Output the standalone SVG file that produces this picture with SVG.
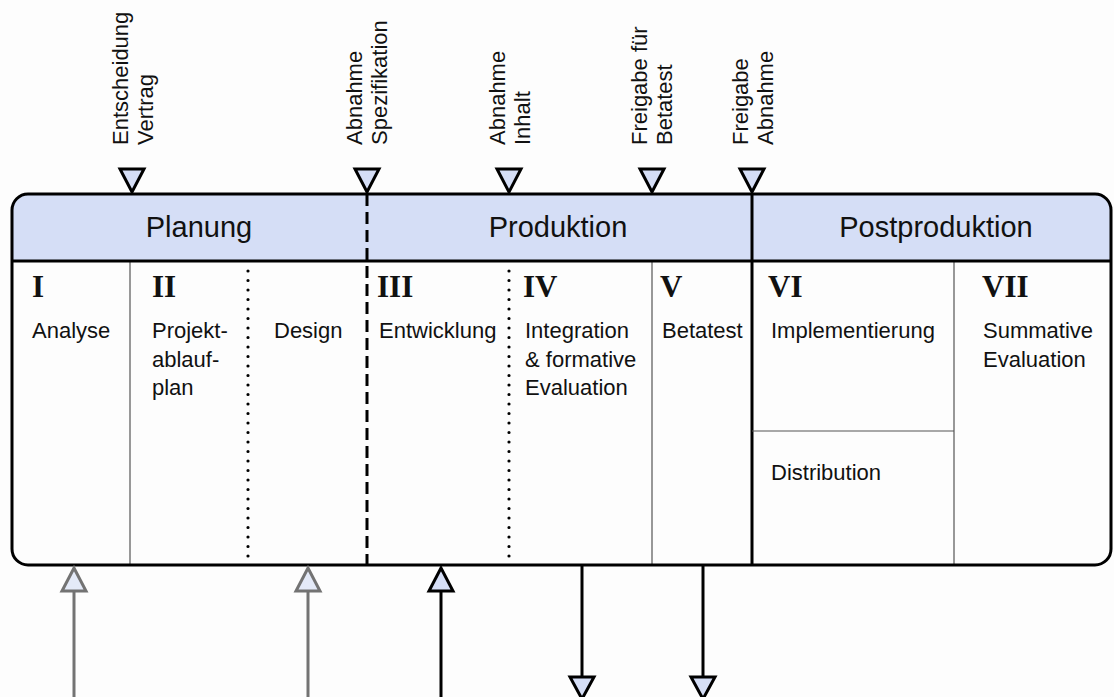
<svg xmlns="http://www.w3.org/2000/svg" width="1114" height="697" viewBox="0 0 1114 697">
  <style>
    .bg { fill: #fdfdfd; }
    .frame { fill: none; stroke: #000; stroke-width: 3; }
    .head { fill: #d5def6; }
    .phase { font-family: "Liberation Sans", Arial, sans-serif; font-size: 29px; fill: #111; text-anchor: middle; }
    .num { font-family: "Liberation Serif", "Times New Roman", serif; font-size: 31px; font-weight: bold; fill: #111; }
    .txt { font-family: "Liberation Sans", Arial, sans-serif; font-size: 22px; fill: #111; }
    .thin { stroke: #555; stroke-width: 1.2; fill: none; }
    .thick { stroke: #000; stroke-width: 3; fill: none; }
    .dash { stroke: #000; stroke-width: 3; stroke-dasharray: 12 6; fill: none; }
    .dot { stroke: #000; stroke-width: 3.2; stroke-dasharray: 0 9.5; stroke-linecap: round; fill: none; }
    .tri { fill: #d5def6; stroke: #000; stroke-width: 3; stroke-linejoin: miter; }
    .tri-grey { fill: #e4eaf8; stroke: #737373; stroke-width: 3; }
    .line-grey { stroke: #737373; stroke-width: 3; }
    .line-black { stroke: #000; stroke-width: 3; }
  </style>

  <rect class="bg" x="0" y="0" width="1114" height="697"/>

  <!-- header band with rounded top corners -->
  <path class="head" d="M12,261 V210 A16,16 0 0 1 28,194 H1095 A16,16 0 0 1 1111,210 V261 Z"/>

  <!-- phase headers -->
  <g id="phase-planung"><text class="phase" x="199" y="237">Planung</text></g>
  <g id="phase-produktion"><text class="phase" x="558" y="237">Produktion</text></g>
  <g id="phase-postproduktion"><text class="phase" x="936" y="237">Postproduktion</text></g>

  <!-- cell separators -->
  <g id="separators">
    <line class="thin" x1="130" y1="261" x2="130" y2="565"/>
    <line class="dot" x1="248" y1="271" x2="248" y2="563"/>
    <line class="dash" x1="367" y1="194" x2="367" y2="565"/>
    <line class="dot" x1="509" y1="271" x2="509" y2="563"/>
    <line class="thin" x1="652" y1="261" x2="652" y2="565"/>
    <line class="thick" x1="752" y1="194" x2="752" y2="565"/>
    <line class="thin" x1="954" y1="261" x2="954" y2="565"/>
    <line class="thin" x1="752" y1="431" x2="954" y2="431"/>
    <line class="thick" x1="12" y1="261" x2="1111" y2="261"/>
  </g>

  <!-- outer frame -->
  <rect class="frame" x="12" y="194" width="1099" height="371" rx="16" ry="16"/>

  <!-- steps -->
  <g id="step-1">
    <text class="num" x="32" y="297">I</text>
    <text class="txt" x="32" y="338">Analyse</text>
  </g>
  <g id="step-2">
    <text class="num" x="152" y="297">II</text>
    <text class="txt" x="152" y="338">Projekt-</text>
    <text class="txt" x="152" y="366.5">ablauf-</text>
    <text class="txt" x="152" y="395">plan</text>
  </g>
  <g id="step-2b">
    <text class="txt" x="274" y="338">Design</text>
  </g>
  <g id="step-3">
    <text class="num" x="377" y="297">III</text>
    <text class="txt" x="379" y="338">Entwicklung</text>
  </g>
  <g id="step-4">
    <text class="num" x="523" y="297">IV</text>
    <text class="txt" x="525" y="338">Integration</text>
    <text class="txt" x="525" y="366.5">&amp; formative</text>
    <text class="txt" x="525" y="395">Evaluation</text>
  </g>
  <g id="step-5">
    <text class="num" x="660" y="297">V</text>
    <text class="txt" x="662" y="338">Betatest</text>
  </g>
  <g id="step-6">
    <text class="num" x="768" y="297">VI</text>
    <text class="txt" x="771" y="338">Implementierung</text>
  </g>
  <g id="step-6b">
    <text class="txt" x="771" y="480">Distribution</text>
  </g>
  <g id="step-7">
    <text class="num" x="982" y="297">VII</text>
    <text class="txt" x="983" y="338">Summative</text>
    <text class="txt" x="983" y="366.5">Evaluation</text>
  </g>

  <!-- milestones -->
  <g id="milestone-vertrag">
    <polygon class="tri" points="120,169 144,169 132,192"/>
    <text class="txt" transform="translate(128,145) rotate(-90)"><tspan x="0" y="0">Entscheidung</tspan><tspan x="0" y="25">Vertrag</tspan></text>
  </g>
  <g id="milestone-spezifikation">
    <polygon class="tri" points="355,169 379,169 367,192"/>
    <text class="txt" transform="translate(362,145) rotate(-90)"><tspan x="0" y="0">Abnahme</tspan><tspan x="0" y="25">Spezifikation</tspan></text>
  </g>
  <g id="milestone-inhalt">
    <polygon class="tri" points="497,169 521,169 509,192"/>
    <text class="txt" transform="translate(505,145) rotate(-90)"><tspan x="0" y="0">Abnahme</tspan><tspan x="0" y="25">Inhalt</tspan></text>
  </g>
  <g id="milestone-betatest">
    <polygon class="tri" points="640,169 664,169 652,192"/>
    <text class="txt" transform="translate(647,145) rotate(-90)"><tspan x="0" y="0">Freigabe für</tspan><tspan x="0" y="25">Betatest</tspan></text>
  </g>
  <g id="milestone-abnahme">
    <polygon class="tri" points="740,169 764,169 752,192"/>
    <text class="txt" transform="translate(748,145) rotate(-90)"><tspan x="0" y="0">Freigabe</tspan><tspan x="0" y="25">Abnahme</tspan></text>
  </g>

  <!-- inputs and outputs -->
  <g id="connectors">
    <line class="line-grey" x1="74" y1="697" x2="74" y2="591"/>
    <polygon class="tri-grey" points="62,591 86,591 74,568"/>
    <line class="line-grey" x1="308" y1="697" x2="308" y2="591"/>
    <polygon class="tri-grey" points="296,591 320,591 308,568"/>
    <line class="line-black" x1="441" y1="697" x2="441" y2="591"/>
    <polygon class="tri" points="429,591 453,591 441,568"/>
    <line class="line-black" x1="582" y1="565" x2="582" y2="677"/>
    <polygon class="tri" points="570,677 594,677 582,699"/>
    <line class="line-black" x1="703" y1="565" x2="703" y2="677"/>
    <polygon class="tri" points="691,677 715,677 703,699"/>
  </g>
</svg>
